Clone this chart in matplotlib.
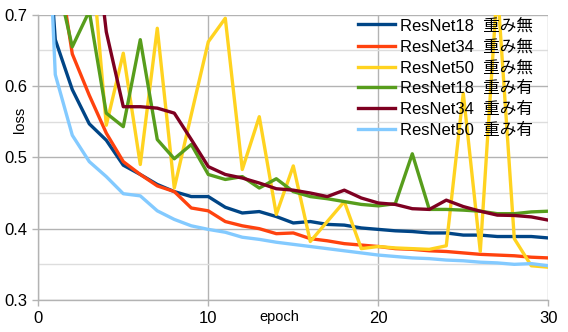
import matplotlib
matplotlib.use("Agg")
import matplotlib.pyplot as plt
from matplotlib.ticker import MultipleLocator

# Fonts: Latin text in Liberation Sans, Japanese falls back to Noto Sans CJK JP
plt.rcParams['font.family'] = ['Liberation Sans', 'Noto Sans CJK JP']

# Loss per epoch (epoch 0 is off the top)
epochs = list(range(31))
resnet18_scratch = [1.00, 0.665, 0.595, 0.547, 0.524, 0.489, 0.476, 0.462, 0.452, 0.445,
                    0.445, 0.430, 0.422, 0.424, 0.417, 0.408, 0.410, 0.406, 0.405, 0.401,
                    0.399, 0.397, 0.396, 0.394, 0.394, 0.391, 0.391, 0.389, 0.389, 0.389, 0.387]
resnet34_scratch = [1.10, 0.80, 0.645, 0.587, 0.534, 0.494, 0.476, 0.460, 0.452, 0.429,
                    0.425, 0.410, 0.404, 0.400, 0.393, 0.394, 0.386, 0.383, 0.379, 0.377,
                    0.375, 0.372, 0.371, 0.369, 0.368, 0.366, 0.364, 0.363, 0.362, 0.360, 0.359]
resnet50_scratch = [1.30, 1.00, 0.90, 0.82, 0.545, 0.646, 0.490, 0.681, 0.457, 0.560,
                    0.662, 0.695, 0.483, 0.557, 0.420, 0.488, 0.382, 0.410, 0.438, 0.372,
                    0.375, 0.373, 0.372, 0.371, 0.376, 0.590, 0.368, 0.740, 0.386, 0.348, 0.346]
resnet18_pretrained = [1.10, 0.76, 0.655, 0.705, 0.562, 0.543, 0.665, 0.525, 0.498, 0.518,
                       0.476, 0.469, 0.473, 0.457, 0.470, 0.452, 0.445, 0.442, 0.438, 0.434,
                       0.432, 0.435, 0.505, 0.427, 0.427, 0.426, 0.4245, 0.421, 0.421, 0.4235, 0.4245]
resnet34_pretrained = [1.20, 1.00, 0.95, 0.88, 0.676, 0.571, 0.571, 0.569, 0.562, 0.525,
                       0.487, 0.476, 0.471, 0.464, 0.456, 0.454, 0.450, 0.445, 0.454, 0.443,
                       0.436, 0.434, 0.428, 0.427, 0.440, 0.431, 0.4245, 0.419, 0.4185, 0.4165, 0.412]
resnet50_pretrained = [1.15, 0.616, 0.531, 0.494, 0.473, 0.449, 0.446, 0.425, 0.413, 0.404,
                       0.399, 0.395, 0.388, 0.385, 0.381, 0.378, 0.375, 0.372, 0.369, 0.366,
                       0.363, 0.361, 0.359, 0.358, 0.356, 0.355, 0.353, 0.352, 0.350, 0.351, 0.348]

series = [
    (resnet18_scratch, "ResNet18  重み無", "#004586"),
    (resnet34_scratch, "ResNet34  重み無", "#ff420e"),
    (resnet50_scratch, "ResNet50  重み無", "#ffd320"),
    (resnet18_pretrained, "ResNet18  重み有", "#579d1c"),
    (resnet34_pretrained, "ResNet34  重み有", "#7e0021"),
    (resnet50_pretrained, "ResNet50  重み有", "#83caff"),
]

fig = plt.figure(figsize=(5.68, 3.32), dpi=100)
ax = fig.add_axes([0.0674, 0.0964, 0.8979, 0.8593])

for values, label, color in series:
    ax.plot(epochs, values, color=color, linewidth=2.4, label=label, zorder=3)

ax.set_xlim(0, 30)
ax.set_ylim(0.3, 0.7)
ax.xaxis.set_major_locator(MultipleLocator(10))
ax.yaxis.set_major_locator(MultipleLocator(0.1))
ax.yaxis.set_minor_locator(MultipleLocator(0.05))
ax.yaxis.set_major_formatter(lambda v, pos: f"{v:.1f}")

# Grid: grey major lines, lighter minor lines on y
ax.grid(axis='both', which='major', color='#b3b3b3', linewidth=1.0, zorder=0)
ax.grid(axis='y', which='minor', color='#dddddd', linewidth=1.0, zorder=0)
ax.set_axisbelow(True)

for side in ['top', 'right']:
    ax.spines[side].set_visible(False)
for side in ['left', 'bottom']:
    ax.spines[side].set_color('#b3b3b3')
    ax.spines[side].set_linewidth(1.0)

ax.tick_params(axis='both', which='major', direction='out', length=4.5, width=1.0,
               color='#b3b3b3', labelsize=12, labelcolor='black', pad=3.5)
ax.tick_params(axis='y', which='minor', length=0)

ax.set_xlabel("epoch", fontsize=10.5)
ax.set_ylabel("loss", fontsize=10.5)
ax.xaxis.set_label_coords(0.4725, -0.035)
ax.yaxis.set_label_coords(-0.022, 0.632)

ax.legend(loc='upper left', bbox_to_anchor=(0.630, 0.946), bbox_transform=fig.transFigure,
          frameon=False, fontsize=12, handlelength=2.2, handletextpad=0.3,
          labelspacing=0.34, borderpad=0, borderaxespad=0)

plt.savefig("out.png", dpi=100)
